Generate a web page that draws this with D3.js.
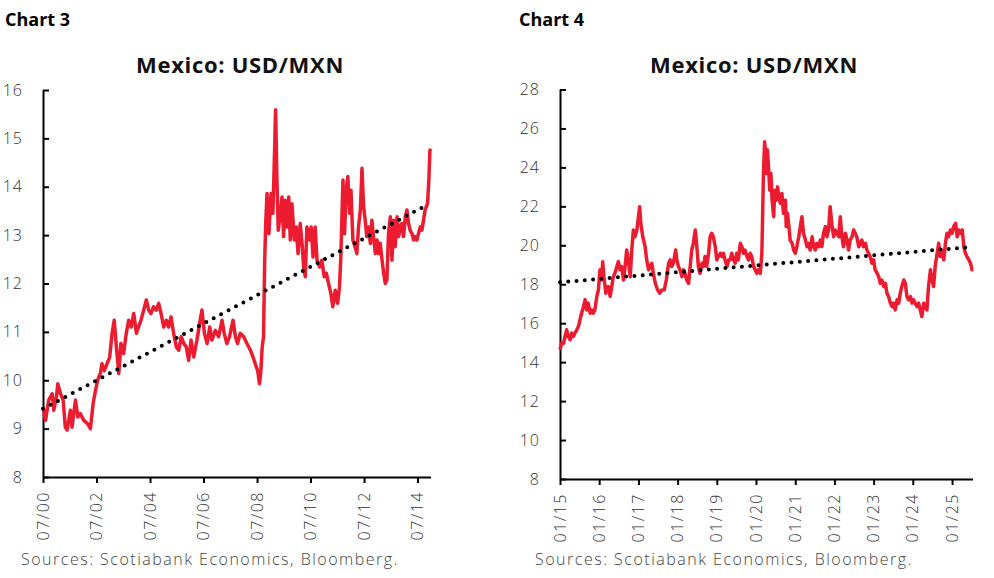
<!DOCTYPE html>
<html>
<head>
<meta charset="utf-8">
<script src="https://cdn.jsdelivr.net/npm/d3@7"></script>
<style>
  html, body { margin: 0; padding: 0; background: #fff; }
  svg { display: block; }
</style>
</head>
<body>
<svg id="chart" width="994" height="578"></svg>
<script>
// ---------------- DATA ----------------
// Chart 3: USD/MXN, 2000-2014 (decimal years)
const dates3 = [2000.50,2000.59,2000.71,2000.84,2000.90,2001.00,2001.05,2001.15,2001.25,2001.33,2001.40,2001.52,2001.58,2001.71,2001.80,2001.89,2002.02,2002.17,2002.27,2002.37,2002.46,2002.54,2002.64,2002.70,2002.79,2002.89,2002.99,2003.08,2003.16,2003.24,2003.33,2003.41,2003.51,2003.61,2003.70,2003.79,2003.89,2003.99,2004.07,2004.16,2004.26,2004.36,2004.45,2004.53,2004.63,2004.73,2004.82,2004.91,2005.01,2005.11,2005.19,2005.28,2005.38,2005.48,2005.57,2005.66,2005.76,2005.85,2005.94,2006.03,2006.13,2006.25,2006.35,2006.44,2006.53,2006.63,2006.73,2006.81,2006.94,2007.06,2007.19,2007.27,2007.37,2007.47,2007.60,2007.69,2007.77,2007.87,2008.00,2008.12,2008.25,2008.35,2008.43,2008.52,2008.59,2008.64,2008.69,2008.74,2008.78,2008.82,2008.87,2008.94,2009.02,2009.09,2009.14,2009.19,2009.24,2009.29,2009.37,2009.43,2009.49,2009.55,2009.62,2009.68,2009.74,2009.80,2009.89,2009.96,2010.03,2010.11,2010.18,2010.24,2010.30,2010.36,2010.46,2010.52,2010.59,2010.67,2010.74,2010.84,2010.92,2011.01,2011.09,2011.17,2011.26,2011.33,2011.42,2011.51,2011.58,2011.63,2011.71,2011.77,2011.83,2011.89,2011.96,2012.01,2012.08,2012.16,2012.23,2012.29,2012.36,2012.42,2012.48,2012.54,2012.60,2012.67,2012.73,2012.79,2012.85,2012.92,2012.98,2013.04,2013.10,2013.17,2013.23,2013.29,2013.35,2013.41,2013.48,2013.54,2013.60,2013.66,2013.73,2013.79,2013.85,2013.91,2013.97,2014.04,2014.10,2014.16,2014.22,2014.29,2014.35,2014.41,2014.47,2014.53,2014.60,2014.66,2014.72,2014.78,2014.87,2014.92,2014.96,2014.99];
const usdmxn3 = [9.45,9.17,9.59,9.72,9.38,9.66,9.93,9.72,9.59,9.03,8.97,9.38,9.03,9.59,9.24,9.31,9.17,9.10,9.00,9.52,9.79,10.00,10.14,10.34,10.20,10.34,10.48,10.97,11.24,10.69,10.14,10.76,10.55,10.97,11.24,11.10,11.38,10.97,11.10,11.24,11.45,11.66,11.45,11.38,11.52,11.45,11.59,11.38,11.10,11.24,11.10,11.31,10.97,10.69,10.62,10.90,10.76,10.69,10.41,10.83,10.48,10.83,11.17,11.45,10.97,10.76,11.10,10.83,11.03,10.90,11.24,10.97,10.76,10.90,11.24,10.90,10.76,10.97,10.90,10.76,10.62,10.48,10.34,10.20,9.93,10.20,10.69,10.90,12.41,13.24,13.86,13.03,13.86,13.45,14.48,15.59,14.14,13.10,13.45,13.79,12.97,13.72,13.17,13.79,12.90,13.65,12.90,13.17,12.62,13.24,12.83,12.34,12.14,13.17,12.90,13.17,12.55,13.17,12.48,12.34,12.48,12.14,12.21,12.00,11.79,11.52,11.86,11.59,11.93,12.55,14.14,13.03,13.93,14.21,13.45,13.93,12.90,12.76,12.62,13.17,13.52,14.38,13.59,13.31,12.97,13.17,12.83,13.31,12.97,12.62,12.90,12.62,12.83,12.48,12.21,12.00,12.07,13.03,13.38,12.48,13.31,12.76,13.38,12.97,13.17,13.24,12.97,13.38,13.52,13.24,13.10,13.03,12.90,12.97,12.90,13.03,13.17,13.10,13.31,13.52,13.65,14.14,14.76,14.72];
const trendDates3 = [2000.50, 2014.87];
const trendValues3 = [9.41, 13.63];
const yTicks3 = [8, 9, 10, 11, 12, 13, 14, 15, 16];
const xTickDates3 = ["2000-07-01","2002-07-01","2004-07-01","2006-07-01","2008-07-01","2010-07-01","2012-07-01","2014-07-01"];
const xTickLabels3 = ["07/00","07/02","07/04","07/06","07/08","07/10","07/12","07/14"];
const xDomain3 = ["2000-07-01","2015-01-01"];
const yDomain3 = [8, 16];

// Chart 4: USD/MXN, 2015-2025
const dates4 = [2015.00,2015.04,2015.09,2015.13,2015.17,2015.21,2015.26,2015.30,2015.34,2015.38,2015.43,2015.47,2015.51,2015.55,2015.60,2015.64,2015.68,2015.72,2015.77,2015.81,2015.85,2015.89,2015.94,2015.98,2016.02,2016.06,2016.09,2016.12,2016.17,2016.23,2016.28,2016.32,2016.36,2016.40,2016.45,2016.49,2016.53,2016.57,2016.62,2016.66,2016.70,2016.74,2016.79,2016.83,2016.87,2016.91,2016.96,2017.00,2017.03,2017.06,2017.11,2017.17,2017.21,2017.26,2017.30,2017.34,2017.38,2017.43,2017.49,2017.54,2017.60,2017.66,2017.71,2017.77,2017.81,2017.85,2017.89,2017.95,2017.98,2018.02,2018.06,2018.11,2018.15,2018.19,2018.23,2018.28,2018.32,2018.36,2018.40,2018.45,2018.49,2018.53,2018.57,2018.62,2018.66,2018.70,2018.74,2018.79,2018.83,2018.87,2018.91,2018.96,2019.00,2019.04,2019.09,2019.13,2019.17,2019.21,2019.26,2019.30,2019.34,2019.38,2019.43,2019.47,2019.51,2019.55,2019.60,2019.64,2019.68,2019.72,2019.77,2019.81,2019.85,2019.89,2019.94,2019.98,2020.02,2020.06,2020.11,2020.15,2020.17,2020.19,2020.22,2020.24,2020.27,2020.29,2020.32,2020.35,2020.38,2020.41,2020.45,2020.48,2020.52,2020.55,2020.58,2020.62,2020.66,2020.70,2020.75,2020.77,2020.80,2020.84,2020.87,2020.92,2020.96,2021.00,2021.04,2021.09,2021.13,2021.17,2021.21,2021.26,2021.30,2021.34,2021.38,2021.43,2021.47,2021.51,2021.55,2021.60,2021.64,2021.68,2021.72,2021.77,2021.81,2021.85,2021.89,2021.94,2021.98,2022.02,2022.06,2022.11,2022.15,2022.19,2022.23,2022.28,2022.32,2022.36,2022.40,2022.45,2022.49,2022.53,2022.57,2022.62,2022.66,2022.70,2022.74,2022.79,2022.83,2022.87,2022.91,2022.96,2023.00,2023.04,2023.09,2023.13,2023.17,2023.21,2023.26,2023.30,2023.34,2023.38,2023.43,2023.47,2023.51,2023.55,2023.60,2023.64,2023.68,2023.72,2023.77,2023.81,2023.85,2023.89,2023.94,2023.98,2024.02,2024.06,2024.11,2024.15,2024.19,2024.23,2024.28,2024.32,2024.36,2024.40,2024.45,2024.49,2024.53,2024.57,2024.62,2024.66,2024.70,2024.74,2024.79,2024.83,2024.87,2024.91,2024.96,2025.00,2025.04,2025.09,2025.13,2025.17,2025.21,2025.26,2025.30,2025.34,2025.38,2025.43,2025.47,2025.51,2025.54];
const usdmxn4 = [14.63,14.97,14.97,15.32,15.66,15.32,15.15,15.49,15.32,15.49,15.66,15.83,16.17,16.51,16.85,17.20,16.68,17.03,16.51,16.68,16.51,16.68,17.37,17.71,18.74,18.22,19.16,18.39,17.54,17.88,17.37,17.88,18.39,18.56,18.91,19.16,18.74,18.91,18.22,18.91,19.76,19.25,18.39,19.76,20.79,20.44,20.79,21.47,21.98,21.13,20.44,19.93,19.25,18.74,18.91,19.08,18.56,18.05,17.71,17.54,17.71,17.71,18.22,19.08,19.25,18.91,19.08,19.76,19.25,18.91,18.74,18.39,18.74,18.56,18.22,18.05,18.91,19.76,20.10,20.79,19.93,18.91,18.56,19.08,18.91,19.42,18.91,19.59,20.44,20.62,20.44,19.93,19.25,19.42,19.59,19.42,19.59,19.25,18.91,19.25,19.25,19.59,19.25,19.08,19.59,19.25,20.10,19.93,19.59,19.76,19.42,19.25,19.59,19.42,18.91,18.74,18.56,18.74,18.56,19.59,21.64,23.69,25.32,24.90,23.69,24.90,24.03,22.83,23.69,22.32,21.47,22.83,22.32,23.00,22.49,22.15,22.66,21.64,22.32,20.96,21.64,20.96,20.27,20.10,19.76,19.59,19.93,20.44,20.96,21.47,20.62,20.27,19.93,20.10,19.76,20.44,19.93,19.76,20.10,19.93,20.27,19.93,20.62,20.96,20.44,20.79,21.98,20.96,20.44,20.79,20.62,20.44,21.47,20.44,19.93,20.62,20.27,19.76,20.27,20.44,20.79,20.62,20.44,19.93,20.10,20.27,19.93,20.10,19.76,19.59,19.42,19.08,19.25,18.74,18.56,18.39,18.05,18.22,17.88,18.05,17.54,17.37,17.03,16.85,17.03,16.68,17.20,17.03,17.54,17.88,18.22,18.05,17.37,17.20,17.37,17.03,17.20,17.03,16.85,17.03,16.68,16.34,17.03,16.85,16.68,17.88,18.74,18.22,17.88,18.91,19.59,20.10,19.42,19.76,19.25,20.10,20.62,20.44,20.79,20.62,20.96,21.13,20.44,20.79,20.62,20.79,19.93,19.59,19.42,19.25,19.08,18.74,18.74];
const trendDates4 = [2015.00, 2025.40];
const trendValues4 = [18.10, 19.90];
const yTicks4 = [8, 10, 12, 14, 16, 18, 20, 22, 24, 26, 28];
const xTickDates4 = ["2015-01-01","2016-01-01","2017-01-01","2018-01-01","2019-01-01","2020-01-01","2021-01-01","2022-01-01","2023-01-01","2024-01-01","2025-01-01"];
const xTickLabels4 = ["01/15","01/16","01/17","01/18","01/19","01/20","01/21","01/22","01/23","01/24","01/25"];
const xDomain4 = ["2015-01-01","2025-07-15"];
const yDomain4 = [8, 28];

const chartLabels = ["Chart 3", "Chart 4"];
const titles = ["Mexico: USD/MXN", "Mexico: USD/MXN"];
const sourceText = "Sources: Scotiabank Economics, Bloomberg.";

// ---------------- HELPERS ----------------
function decYearToDate(d) {
  const y = Math.floor(d);
  const start = new Date(y, 0, 1).getTime();
  const end = new Date(y + 1, 0, 1).getTime();
  return new Date(start + (d - y) * (end - start));
}
const parse = d3.timeParse("%Y-%m-%d");

const RED = "#ED1B2F";
const FONT = "'Open Sans', 'Noto Sans', sans-serif";
const svg = d3.select("#chart");

function drawPanel(cfg) {
  const g = svg.append("g");
  const x = d3.scaleTime().domain(cfg.xDomain.map(parse)).range([cfg.left, cfg.right]);
  const y = d3.scaleLinear().domain(cfg.yDomain).range([cfg.bottom, cfg.top]);

  // chart label
  g.append("text").attr("x", cfg.labelX).attr("y", 26)
    .attr("font-family", FONT).attr("font-weight", 700).attr("font-size", 18)
    .attr("fill", "#000").text(cfg.label);

  // title
  g.append("text").attr("x", cfg.titleX).attr("y", 73).attr("text-anchor", "middle")
    .attr("font-family", FONT).attr("font-weight", 700).attr("font-size", 22)
    .attr("letter-spacing", "0.7px")
    .attr("fill", "#111").text(cfg.title);

  // Y axis (ticks inward)
  const yAxis = d3.axisRight(y).tickValues(cfg.yTicks).tickSize(6).tickFormat("");
  const ya = g.append("g").attr("transform", `translate(${cfg.left},0)`).call(yAxis);
  ya.select(".domain").attr("d", `M0.5,${cfg.top}V${cfg.bottom}`).attr("stroke", "#000").attr("stroke-width", 2);
  ya.selectAll(".tick line").attr("stroke", "#000").attr("stroke-width", 2);
  g.append("g").selectAll("text").data(cfg.yTicks).join("text")
    .attr("x", cfg.left - 20).attr("y", d => y(d)).attr("dy", "0.35em")
    .attr("text-anchor", "end").attr("font-family", FONT).attr("font-size", 16)
    .attr("font-weight", 300).attr("letter-spacing", "1px")
    .attr("fill", "#333").text(d => d);

  // X axis
  const xTicks = cfg.xTickDates.map(parse);
  const xAxis = d3.axisBottom(x).tickValues(xTicks).tickSize(6).tickFormat("");
  const xa = g.append("g").attr("transform", `translate(0,${cfg.bottom})`).call(xAxis);
  xa.select(".domain").attr("d", `M${cfg.left},0.5H${cfg.right}`).attr("stroke", "#000").attr("stroke-width", 2);
  xa.selectAll(".tick line").attr("stroke", "#000").attr("stroke-width", 2);
  g.append("g").selectAll("text").data(xTicks).join("text")
    .attr("transform", d => `translate(${x(d)},${cfg.bottom + 14}) rotate(-90)`)
    .attr("dy", "0.35em").attr("text-anchor", "end")
    .attr("font-family", FONT).attr("font-size", 16).attr("font-weight", 300)
    .attr("letter-spacing", "1.5px").attr("fill", "#333")
    .text((d, i) => cfg.xTickLabels[i]);

  // data line
  const pts = cfg.dates.map((d, i) => [decYearToDate(d), cfg.values[i]]);
  const line = d3.line().x(d => x(d[0])).y(d => y(d[1]));
  g.append("path").datum(pts).attr("d", line)
    .attr("fill", "none").attr("stroke", RED).attr("stroke-width", 3.5)
    .attr("stroke-linejoin", "round");

  // dotted trend line
  const tpts = cfg.trendDates.map((d, i) => [decYearToDate(d), cfg.trendValues[i]]);
  g.append("path").datum(tpts).attr("d", line)
    .attr("fill", "none").attr("stroke", "#000").attr("stroke-width", 4)
    .attr("stroke-linecap", "round").attr("stroke-dasharray", `0,${cfg.dotGap}`);

  // source
  g.append("text").attr("x", cfg.sourceX).attr("y", 565)
    .attr("font-family", FONT).attr("font-size", 16).attr("font-weight", 300)
    .attr("letter-spacing", "1.5px").attr("fill", "#444")
    .text(sourceText);
}

drawPanel({
  label: chartLabels[0], labelX: 5, title: titles[0], titleX: 240, sourceX: 21,
  left: 43, right: 431, top: 90, bottom: 477,
  xDomain: xDomain3, yDomain: yDomain3, yTicks: yTicks3,
  xTickDates: xTickDates3, xTickLabels: xTickLabels3,
  dates: dates3, values: usdmxn3, trendDates: trendDates3, trendValues: trendValues3, dotGap: 8.4
});
drawPanel({
  label: chartLabels[1], labelX: 519, title: titles[1], titleX: 754, sourceX: 535,
  left: 560, right: 973, top: 89.5, bottom: 479,
  xDomain: xDomain4, yDomain: yDomain4, yTicks: yTicks4,
  xTickDates: xTickDates4, xTickLabels: xTickLabels4,
  dates: dates4, values: usdmxn4, trendDates: trendDates4, trendValues: trendValues4, dotGap: 8.3
});
</script>
</body>
</html>
